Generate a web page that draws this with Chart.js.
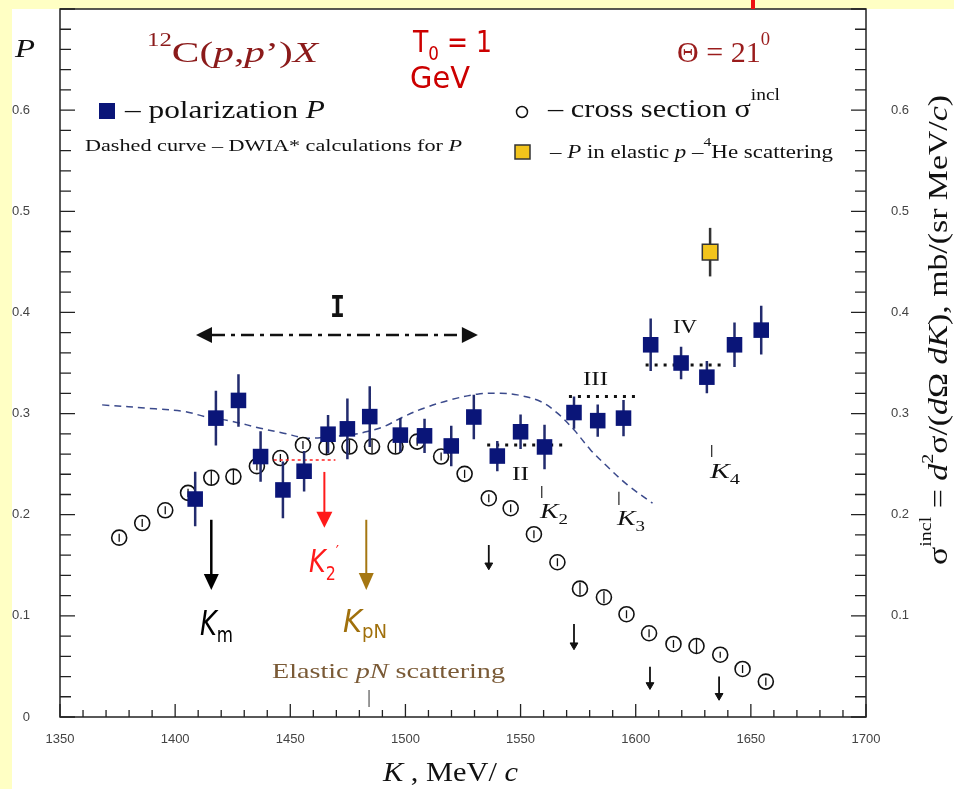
<!DOCTYPE html>
<html lang="en">
<head>
  <meta charset="UTF-8" />
  <title>12C(p,p')X polarization</title>
  <script src="https://cdn.jsdelivr.net/npm/chart.js"></script>
  <style>
    html, body { margin: 0; padding: 0; background: #ffffc4; }
    canvas { display: block; }
  </style>
</head>
<body>
<canvas id="chart" width="954" height="789" style="width:954px;height:789px"></canvas>
<script>
  // ---- data ----
  // polarization P (filled squares)
  const kPol   = [1408.7, 1417.7, 1427.5, 1437.1, 1446.8, 1456.0, 1466.4, 1474.8, 1484.5, 1497.8, 1508.3, 1519.9,
                  1529.7, 1539.9, 1550.0, 1560.4, 1573.2, 1583.5, 1594.7, 1606.5, 1619.7, 1630.9, 1642.9, 1654.5];
  const pPol   = [0.2155, 0.2955, 0.313, 0.2575, 0.2245, 0.243, 0.2796, 0.2849, 0.297, 0.2787, 0.278, 0.268,
                  0.2966, 0.258, 0.282, 0.267, 0.301, 0.293, 0.2955, 0.368, 0.350, 0.336, 0.368, 0.3825];
  const pPolErr = [0.027, 0.027, 0.026, 0.025, 0.028, 0.020, 0.019, 0.030, 0.030, 0.017, 0.017, 0.020,
                   0.022, 0.015, 0.017, 0.022, 0.016, 0.016, 0.018, 0.026, 0.016, 0.016, 0.022, 0.024];

  // P in elastic p-4He scattering (yellow square)
  const kHe = [1632.3];
  const pHe = [0.4596];
  const pHeErr = [0.024];

  // inclusive cross section (open circles), read on the right axis
  const kSigma = [1375.7, 1385.7, 1395.7, 1405.6, 1415.7, 1425.3, 1435.5, 1445.7, 1455.5, 1465.7, 1475.7, 1485.5,
                  1495.7, 1505.1, 1515.5, 1525.7, 1536.2, 1545.7, 1555.8, 1566.0, 1575.8, 1586.2, 1596.0, 1605.8,
                  1616.4, 1626.4, 1636.7, 1646.4, 1656.5];
  const sigma  = [0.1773, 0.1918, 0.2044, 0.2216, 0.2365, 0.2377, 0.248, 0.256, 0.269, 0.2668, 0.2674, 0.2674,
                  0.2674, 0.2723, 0.2575, 0.2404, 0.2163, 0.2064, 0.1807, 0.153, 0.1269, 0.1184, 0.1016, 0.0828,
                  0.0722, 0.0702, 0.0616, 0.0475, 0.035];
  const sigmaErr = [0.004, 0.004, 0.004, 0.004, 0.007, 0.007, 0.004, 0.004, 0.004, 0.007, 0.007, 0.007,
                    0.007, 0.004, 0.004, 0.004, 0.004, 0.004, 0.004, 0.004, 0.006, 0.006, 0.004, 0.004,
                    0.004, 0.007, 0.003, 0.004, 0.004];

  // small filled points with upward bars
  const kLow = [1536.2, 1573.2, 1606.2, 1636.2];
  const sigmaLow = [0.150, 0.071, 0.0317, 0.021];
  const sigmaLowBar = [0.020, 0.021, 0.018, 0.019];

  // DWIA* calculation (dashed curve)
  const kDwia = [1368.3, 1391.3, 1404.3, 1413.0, 1425.4, 1437.0, 1447.1, 1457.3, 1467.4, 1476.1, 1483.4, 1490.6,
                 1499.3, 1508.0, 1519.6, 1531.2, 1541.3, 1548.6, 1558.7, 1566.0, 1573.2, 1580.4, 1587.7, 1596.4, 1607.3];
  const pDwia = [0.3086, 0.3047, 0.302, 0.297, 0.292, 0.2855, 0.2806, 0.2757, 0.2773, 0.279, 0.2822, 0.2871,
                 0.297, 0.3053, 0.3136, 0.3192, 0.320, 0.3185, 0.3119, 0.3004, 0.2839, 0.2641, 0.2476, 0.2295, 0.2114];

  // plateau levels (dotted)
  const kLevelII = [1535.5, 1568.1];   const pLevelII = [0.269, 0.269];
  const kLevelIII = [1571.0, 1600.0];  const pLevelIII = [0.3168, 0.3168];
  const kLevelIV = [1604.3, 1637.0];   const pLevelIV = [0.348, 0.348];
  const kLevelK2p = [1442.8, 1469.6];  const pLevelK2p = [0.2542, 0.2542];

  // region I (dash-dot double arrow)
  const kRangeI = [1416.0, 1524.5];
  const pRangeI = [0.3778, 0.3778];

  // axes
  const xTickLabels = [1350, 1400, 1450, 1500, 1550, 1600, 1650, 1700];
  const yTickLabelsLeft = [0, 0.1, 0.2, 0.3, 0.4, 0.5, 0.6];
  const yTickLabelsRight = [0.1, 0.2, 0.3, 0.4, 0.5, 0.6];

  const pts = (xs, ys) => xs.map((x, i) => ({ x: x, y: ys[i] }));

  const SERIF = '"Liberation Serif", "DejaVu Serif", serif';
  const SANS = '"DejaVu Sans", sans-serif';

  // text made of pieces [text, font, dy], stretched to a width
  function rich(ctx, parts, x, y, o) {
    let w = 0;
    parts.forEach(p => { ctx.font = p[1]; w += ctx.measureText(p[0]).width; });
    const sx = o.w ? o.w / w : 1;
    ctx.save();
    ctx.translate(x, y);
    if (o.rot) ctx.rotate(o.rot);
    ctx.scale(sx, 1);
    ctx.fillStyle = o.color || '#111';
    ctx.textAlign = 'left';
    ctx.textBaseline = 'alphabetic';
    let cx = 0;
    parts.forEach(p => {
      ctx.font = p[1];
      ctx.fillText(p[0], cx, p[2] || 0);
      cx += ctx.measureText(p[0]).width;
    });
    ctx.restore();
  }

  function arrowDown(ctx, x, yTop, yTip, color, lw, hw, hh) {
    ctx.save();
    ctx.strokeStyle = color; ctx.fillStyle = color; ctx.lineWidth = lw;
    ctx.beginPath(); ctx.moveTo(x, yTop); ctx.lineTo(x, yTip - hh + 2); ctx.stroke();
    ctx.beginPath(); ctx.moveTo(x - hw / 2, yTip - hh); ctx.lineTo(x + hw / 2, yTip - hh); ctx.lineTo(x, yTip);
    ctx.closePath(); ctx.fill();
    ctx.restore();
  }

  function vline(ctx, x, y1, y2, color, lw) {
    ctx.save(); ctx.strokeStyle = color; ctx.lineWidth = lw;
    ctx.beginPath(); ctx.moveTo(x, y1); ctx.lineTo(x, y2); ctx.stroke(); ctx.restore();
  }

  function drawErr(chart, index, onTop) {
    const ds = chart.data.datasets[index];
    if (!ds.errHi || !!ds.errOnTop !== onTop) return;
    const ctx = chart.ctx, xs = chart.scales.x, ys = chart.scales.y;
    ctx.save();
    ctx.strokeStyle = ds.errColor; ctx.lineWidth = ds.errWidth;
    ctx.beginPath();
    ds.data.forEach((p, j) => {
      const x = xs.getPixelForValue(p.x);
      ctx.moveTo(x, ys.getPixelForValue(p.y + ds.errHi[j]));
      ctx.lineTo(x, ys.getPixelForValue(p.y - ds.errLo[j]));
    });
    ctx.stroke();
    ctx.restore();
  }

  const errorBars = {
    id: 'errorBars',
    beforeDatasetDraw(chart, args) { drawErr(chart, args.index, false); },
    afterDatasetDraw(chart, args) { drawErr(chart, args.index, true); }
  };

  const background = {
    id: 'background',
    beforeDraw(chart) {
      const ctx = chart.ctx;
      ctx.save();
      ctx.fillStyle = '#ffffc4';
      ctx.fillRect(0, 0, chart.width, chart.height);
      ctx.fillStyle = '#ffffff';
      ctx.fillRect(12, chart.chartArea.top, chart.width - 12, chart.height - chart.chartArea.top);
      ctx.restore();
    }
  };

  const decorations = {
    id: 'decorations',
    afterDraw(chart) {
      const ctx = chart.ctx, a = chart.chartArea, xs = chart.scales.x, ys = chart.scales.y;
      const X = v => xs.getPixelForValue(v), Y = v => ys.getPixelForValue(v);

      // frame
      ctx.save();
      ctx.strokeStyle = '#222'; ctx.lineWidth = 1.5;
      ctx.strokeRect(a.left, a.top, a.right - a.left, a.bottom - a.top);
      // inner ticks
      ctx.lineWidth = 1.3;
      ctx.beginPath();
      for (let k = 1350; k <= 1700; k += 10) {
        const len = (k % 50 === 0) ? 13 : 7;
        ctx.moveTo(X(k), a.bottom); ctx.lineTo(X(k), a.bottom - len);
      }
      for (let i = 0; i <= 35; i++) {
        const y = Y(i * 0.02);
        const len = (i % 5 === 0) ? 15 : 11;
        ctx.moveTo(a.left, y); ctx.lineTo(a.left + len, y);
        ctx.moveTo(a.right, y); ctx.lineTo(a.right - len, y);
      }
      ctx.stroke();
      ctx.restore();

      // red mark at the top edge
      ctx.save(); ctx.fillStyle = '#ee1111'; ctx.fillRect(751, 0, 4, a.top); ctx.restore();

      // double arrow of region I
      ctx.save();
      ctx.fillStyle = '#111';
      const yI = Y(pRangeI[0]);
      const xl = X(kRangeI[0]), xr = X(kRangeI[1]);
      ctx.beginPath(); ctx.moveTo(xl - 16, yI); ctx.lineTo(xl, yI - 8); ctx.lineTo(xl, yI + 8); ctx.closePath(); ctx.fill();
      ctx.beginPath(); ctx.moveTo(xr + 16, yI); ctx.lineTo(xr, yI - 8); ctx.lineTo(xr, yI + 8); ctx.closePath(); ctx.fill();
      ctx.restore();

      // vertical arrows
      arrowDown(ctx, X(1415.7), Y(0.195), Y(0.1256), '#000', 2.5, 15, 16);
      arrowDown(ctx, X(1464.8), Y(0.2423), Y(0.187), '#ff1a1a', 2, 16, 16);
      arrowDown(ctx, X(1483.0), Y(0.195), Y(0.1256), '#a57712', 2, 15, 17);

      // small marker ticks
      vline(ctx, X(1559.2), Y(0.2285), Y(0.2166), '#222', 1.2);
      vline(ctx, X(1592.7), Y(0.2226), Y(0.2097), '#222', 1.2);
      vline(ctx, X(1633.0), Y(0.269), Y(0.257), '#222', 1.2);
      vline(ctx, X(1484.2), Y(0.0267), Y(0.0099), '#555', 1.2);

      // legend symbols
      ctx.save();
      ctx.fillStyle = '#0a1578';
      ctx.fillRect(99, 103, 16, 16);
      ctx.fillStyle = '#f2c41c'; ctx.strokeStyle = '#333'; ctx.lineWidth = 1.5;
      ctx.fillRect(515, 145, 15, 14); ctx.strokeRect(515, 145, 15, 14);
      ctx.fillStyle = '#fff'; ctx.strokeStyle = '#111';
      ctx.beginPath(); ctx.arc(522, 112, 5.5, 0, Math.PI * 2); ctx.fill(); ctx.stroke();
      ctx.restore();

      // texts
      rich(ctx, [['P', 'italic 26px ' + SERIF]], 15, 57, { w: 20, color: '#111' });
      rich(ctx, [['12', '18px ' + SERIF, -16], ['C(', '30px ' + SERIF], ['p', 'italic 30px ' + SERIF], [',', '30px ' + SERIF],
                 ['p', 'italic 30px ' + SERIF], ['\u2019)', '30px ' + SERIF], ['X', 'italic 30px ' + SERIF]],
           147, 62, { w: 171, color: '#8b1a1a' });
      rich(ctx, [['T', '30px ' + SANS], ['0', '20px ' + SANS, 8], [' = 1', '30px ' + SANS]], 413, 52, { w: 79, color: '#cc0000' });
      rich(ctx, [['GeV', '30px ' + SANS]], 410, 88, { w: 60, color: '#cc0000' });
      rich(ctx, [['\u0398 = 21', '29px ' + SERIF], ['0', '18px ' + SERIF, -17]], 677, 62, { w: 93, color: '#9a1c1c' });

      rich(ctx, [['\u2013 polarization ', '25px ' + SERIF], ['P', 'italic 25px ' + SERIF]], 125, 118, { w: 200 });
      rich(ctx, [['Dashed curve \u2013 DWIA* calculations for ', '16px ' + SERIF], ['P', 'italic 16px ' + SERIF]], 85, 151, { w: 377 });
      rich(ctx, [['\u2013 cross section \u03c3', '25px ' + SERIF], ['incl', '16px ' + SERIF, -17]], 548, 117, { w: 232 });
      rich(ctx, [['\u2013 ', '19px ' + SERIF], ['P', 'italic 19px ' + SERIF], [' in elastic ', '19px ' + SERIF], ['p', 'italic 19px ' + SERIF],
                 [' \u2013', '19px ' + SERIF], ['4', '13px ' + SERIF, -12], ['He scattering', '19px ' + SERIF]],
           550, 158, { w: 283 });

      rich(ctx, [['I', 'bold 30px "DejaVu Sans Mono", monospace']], 330, 317, { w: 15, color: '#111' });
      rich(ctx, [['II', '18px ' + SERIF]], 512, 480, { w: 17 });
      rich(ctx, [['III', '18px ' + SERIF]], 583, 385, { w: 25 });
      rich(ctx, [['IV', '18px ' + SERIF]], 673, 333, { w: 24 });
      rich(ctx, [['K', 'italic 22px ' + SERIF], ['2', '15px ' + SERIF, 6]], 540, 518, { w: 28 });
      rich(ctx, [['K', 'italic 22px ' + SERIF], ['3', '15px ' + SERIF, 6]], 617, 525, { w: 28 });
      rich(ctx, [['K', 'italic 22px ' + SERIF], ['4', '15px ' + SERIF, 6]], 710, 478, { w: 30 });

      rich(ctx, [['K', 'italic 34px ' + SANS], ['m', '22px ' + SANS, 7]], 200, 635, { w: 33, color: '#000' });
      rich(ctx, [['K', 'italic 32px ' + SANS], ['2', '20px ' + SANS, 8], ['\u2032', '18px ' + SANS, -14]], 309, 572, { w: 30, color: '#ff1a1a' });
      rich(ctx, [['K', 'italic 32px ' + SANS], ['pN', '20px ' + SANS, 6]], 343, 632, { w: 44, color: '#a0700c' });
      rich(ctx, [['Elastic ', '22px ' + SERIF], ['pN', 'italic 22px ' + SERIF], [' scattering', '22px ' + SERIF]],
           272, 678, { w: 233, color: '#7a5a36' });

      rich(ctx, [['K', 'italic 28px ' + SERIF], [' , MeV/ ', '28px ' + SERIF], ['c', 'italic 28px ' + SERIF]], 383, 781, { w: 135 });

      rich(ctx, [['\u03c3', '27px ' + SERIF], ['incl', '16px ' + SERIF, -16], [' = ', '27px ' + SERIF], ['d', 'italic 27px ' + SERIF],
                 ['2', '16px ' + SERIF, -14], ['\u03c3/(', '27px ' + SERIF], ['d', 'italic 27px ' + SERIF], ['\u03a9 ', '27px ' + SERIF],
                 ['dK', 'italic 27px ' + SERIF], ['), mb/(sr MeV/', '27px ' + SERIF], ['c', 'italic 27px ' + SERIF], [')', '27px ' + SERIF]],
           947, 565, { w: 470, rot: -Math.PI / 2 });
    }
  };

  const tickFont = { family: '"Liberation Sans", sans-serif', size: 13, lineHeight: 1 };
  const near = (v, list) => list.some(t => Math.abs(t - v) < 1e-6);
  // keep the plot box fixed: no extra padding from tick labels
  const noPad = s => { s.paddingTop = 0; s.paddingBottom = 0; s.paddingLeft = 0; s.paddingRight = 0; };

  new Chart(document.getElementById('chart').getContext('2d'), {
    type: 'scatter',
    data: {
      datasets: [
        {
          label: 'polarization P', data: pts(kPol, pPol), order: 1,
          pointStyle: 'rect', pointRadius: 11, backgroundColor: '#0a1578', borderColor: '#0a1578', borderWidth: 0,
          errHi: pPolErr, errLo: pPolErr, errColor: '#222b6e', errWidth: 2.5
        },
        {
          label: 'P in elastic p-4He', data: pts(kHe, pHe), order: 2,
          pointStyle: 'rect', pointRadius: 11, backgroundColor: '#f2c41c', borderColor: '#333', borderWidth: 1.5,
          errHi: pHeErr, errLo: pHeErr, errColor: '#333', errWidth: 2.5
        },
        {
          label: 'level K2prime', data: pts(kLevelK2p, pLevelK2p), order: 3, showLine: true, pointRadius: 0,
          borderColor: '#ff2020', borderWidth: 1.5, borderDash: [3, 3]
        },
        {
          label: 'cross section', data: pts(kSigma, sigma), order: 4,
          pointStyle: 'circle', pointRadius: 7.5, backgroundColor: '#ffffff', borderColor: '#111', borderWidth: 1.6,
          errHi: sigmaErr, errLo: sigmaErr, errColor: '#111', errWidth: 1.3, errOnTop: true
        },
        {
          label: 'level II', data: pts(kLevelII, pLevelII), order: 5, showLine: true, pointRadius: 0,
          borderColor: '#111', borderWidth: 3, borderDash: [3, 6]
        },
        {
          label: 'level III', data: pts(kLevelIII, pLevelIII), order: 5, showLine: true, pointRadius: 0,
          borderColor: '#111', borderWidth: 3, borderDash: [3, 6]
        },
        {
          label: 'level IV', data: pts(kLevelIV, pLevelIV), order: 5, showLine: true, pointRadius: 0,
          borderColor: '#111', borderWidth: 3, borderDash: [3, 6]
        },
        {
          label: 'low points', data: pts(kLow, sigmaLow), order: 6,
          pointStyle: 'triangle', rotation: 180, pointRadius: 4.5, backgroundColor: '#111', borderColor: '#111', borderWidth: 1,
          errHi: sigmaLowBar, errLo: [0, 0, 0, 0], errColor: '#111', errWidth: 1.8
        },
        {
          label: 'region I', data: pts(kRangeI, pRangeI), order: 7, showLine: true, pointRadius: 0,
          borderColor: '#111', borderWidth: 2.5, borderDash: [13, 6, 4, 6]
        },
        {
          label: 'DWIA*', data: pts(kDwia, pDwia), order: 8, showLine: true, pointRadius: 0,
          borderColor: '#3b4a8c', borderWidth: 1.5, borderDash: [7, 5], tension: 0.35
        }
      ]
    },
    options: {
      responsive: false,
      animation: false,
      layout: { autoPadding: false, padding: { top: 9, left: 0, right: 0, bottom: 0 } },
      plugins: { legend: { display: false }, tooltip: { enabled: false } },
      scales: {
        x: {
          type: 'linear', min: 1350, max: 1700,
          grid: { display: false }, border: { display: false },
          ticks: {
            stepSize: 10, autoSkip: false, maxRotation: 0, padding: 8, color: '#444', font: tickFont,
            callback: v => near(v, xTickLabels) ? String(Math.round(v)) : ''
          },
          afterFit: s => { s.height = 72; noPad(s); }
        },
        y: {
          type: 'linear', min: 0, max: 0.7,
          grid: { display: false }, border: { display: false },
          ticks: {
            stepSize: 0.02, autoSkip: false, padding: 22, color: '#444', font: tickFont,
            callback: v => near(v, yTickLabelsLeft) ? (Math.round(v * 10) / 10).toString() : ''
          },
          afterFit: s => { s.width = 60; noPad(s); }
        },
        y2: {
          type: 'linear', position: 'right', min: 0, max: 0.7,
          grid: { display: false }, border: { display: false },
          ticks: {
            stepSize: 0.02, autoSkip: false, padding: 17, color: '#444', font: tickFont,
            callback: v => near(v, yTickLabelsRight) ? (Math.round(v * 10) / 10).toString() : ''
          },
          afterFit: s => { s.width = 88; noPad(s); }
        }
      }
    },
    plugins: [background, errorBars, decorations]
  });
</script>
</body>
</html>
